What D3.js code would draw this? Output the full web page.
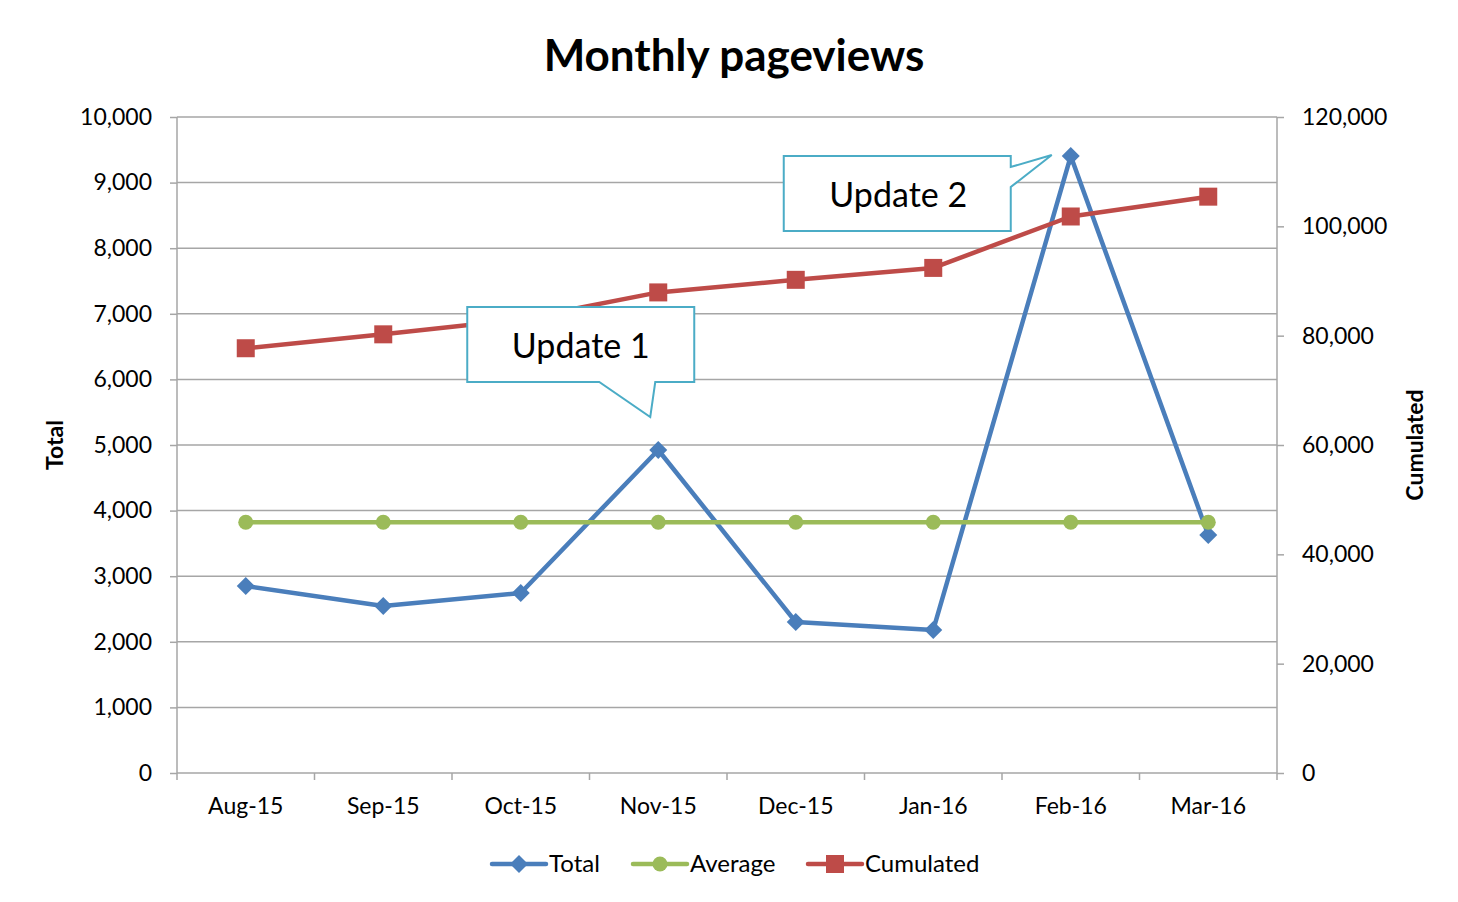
<!DOCTYPE html>
<html>
<head>
<meta charset="utf-8">
<script src="https://cdn.jsdelivr.net/npm/d3@7"></script>
<style>
  body { margin: 0; background: #fff; }
  svg text { font-family: Lato, "Open Sans", sans-serif; fill: #000; }
</style>
</head>
<body>
<div class="chart"></div>
<script>
// data
var months = ["Aug-15", "Sep-15", "Oct-15", "Nov-15", "Dec-15", "Jan-16", "Feb-16", "Mar-16"];
var total = [2850, 2545, 2744, 4924, 2302, 2180, 9405, 3628];
var average = [3822, 3822, 3822, 3822, 3822, 3822, 3822, 3822];
var cumulated = [77700, 80245, 82989, 87913, 90215, 92395, 101800, 105428];
var leftTicks = [0, 1000, 2000, 3000, 4000, 5000, 6000, 7000, 8000, 9000, 10000];
var rightTicks = [0, 20000, 40000, 60000, 80000, 100000, 120000];
var callouts = [
  { label: "Update 1", month: "Nov-15" },
  { label: "Update 2", month: "Feb-16" }
];

var W = 1458, H = 902;
var margin = { top: 117, bottom: 129, left: 177, right: 181 };
var width = W - margin.left - margin.right;
var height = H - margin.top - margin.bottom;

var svg = d3.select(".chart").append("svg").attr("width", W).attr("height", H);

var x = d3.scaleBand().domain(months).range([0, width]);
var yL = d3.scaleLinear().domain([0, 10000]).range([height, 0]);
var yR = d3.scaleLinear().domain([0, 120000]).range([height, 0]);
var cx = d => x(d) + x.bandwidth() / 2;

var grey = "#a6a6a6";
var chart = svg.append("g").attr("transform", `translate(${margin.left},${margin.top})`);

// title
svg.append("text").attr("x", 734).attr("y", 71).attr("text-anchor", "middle")
  .style("font-size", "44px").style("font-weight", "bold").text("Monthly pageviews");

// gridlines
chart.append("g").selectAll("line").data(leftTicks.slice(1)).join("line")
  .attr("x1", 0).attr("x2", width).attr("y1", d => yL(d)).attr("y2", d => yL(d))
  .attr("stroke", grey).attr("stroke-width", 1.5);

// left axis
var fmt = d3.format(",");
var axL = chart.append("g").call(d3.axisLeft(yL).tickValues(leftTicks).tickFormat(fmt).tickSize(7).tickPadding(18));
axL.selectAll("path, line").attr("stroke", grey).attr("stroke-width", 1.5);
axL.selectAll("text").style("font-size", "23px");
axL.select(".domain").attr("d", `M0,${height}V0`);

// right axis
var axR = chart.append("g").attr("transform", `translate(${width},0)`)
  .call(d3.axisRight(yR).tickValues(rightTicks).tickFormat(fmt).tickSize(7).tickPadding(18));
axR.selectAll("path, line").attr("stroke", grey).attr("stroke-width", 1.5);
axR.selectAll("text").style("font-size", "23px");
axR.select(".domain").attr("d", `M0,${height}V0`);

// bottom axis
var axB = chart.append("g").attr("transform", `translate(0,${height})`)
  .call(d3.axisBottom(x).tickSize(0).tickPadding(25));
axB.selectAll("path").attr("stroke", grey).attr("stroke-width", 1.5).attr("d", `M0,0H${width}`);
axB.selectAll("text").style("font-size", "23px");
axB.append("g").selectAll("line").data(d3.range(months.length + 1)).join("line")
  .attr("x1", i => i * x.bandwidth()).attr("x2", i => i * x.bandwidth())
  .attr("y1", 0).attr("y2", 7).attr("stroke", grey).attr("stroke-width", 1.5);

// axis titles
svg.append("text").attr("transform", "translate(63,445) rotate(-90)").attr("text-anchor", "middle")
  .style("font-size", "23px").style("font-weight", "bold").text("Total");
svg.append("text").attr("transform", "translate(1423,445) rotate(-90)").attr("text-anchor", "middle")
  .style("font-size", "23px").style("font-weight", "bold").text("Cumulated");

var series = [
  { name: "Total", values: total, y: yL, color: "#4a7ebb", marker: "diamond" },
  { name: "Average", values: average, y: yL, color: "#9bbb59", marker: "circle" },
  { name: "Cumulated", values: cumulated, y: yR, color: "#be4b48", marker: "square" }
];

function marker(g, type, color) {
  if (type === "diamond") g.append("path").attr("d", "M0,-9L9,0L0,9L-9,0Z").attr("fill", color);
  else if (type === "circle") g.append("circle").attr("r", 7.5).attr("fill", color);
  else g.append("rect").attr("x", -9).attr("y", -9).attr("width", 18).attr("height", 18).attr("fill", color);
}

series.forEach(s => {
  var line = d3.line().x((d, i) => cx(months[i])).y(d => s.y(d));
  chart.append("path").datum(s.values).attr("d", line).attr("fill", "none")
    .attr("stroke", s.color).attr("stroke-width", 4.5).attr("stroke-linejoin", "round");
  s.values.forEach((v, i) => {
    marker(chart.append("g").attr("transform", `translate(${cx(months[i])},${s.y(v)})`), s.marker, s.color);
  });
});

// callouts
var cBox = { w: 227, h: 75 };
var c1 = callouts[0], p1 = [cx(c1.month), yL(total[months.indexOf(c1.month)])];
var g1 = chart.append("g").attr("transform", `translate(${p1[0] - 191},${p1[1] - 143})`);
g1.append("path")
  .attr("d", `M0,0H${cBox.w}V${cBox.h}H188L183,110L132,${cBox.h}H0Z`)
  .attr("fill", "#fff").attr("stroke", "#4bacc6").attr("stroke-width", 2);
g1.append("text").attr("x", cBox.w / 2).attr("y", 51).attr("text-anchor", "middle")
  .style("font-size", "34px").text(c1.label);

var c2 = callouts[1], p2 = [cx(c2.month), yL(total[months.indexOf(c2.month)])];
var g2 = chart.append("g").attr("transform", `translate(${p2[0] - 287},${p2[1]})`);
g2.append("path")
  .attr("d", `M0,0H${cBox.w}V11L268,-1L${cBox.w},31V${cBox.h}H0Z`)
  .attr("fill", "#fff").attr("stroke", "#4bacc6").attr("stroke-width", 2);
g2.append("text").attr("x", cBox.w / 2 + 1).attr("y", 51).attr("text-anchor", "middle")
  .style("font-size", "34px").text(c2.label);

// legend
var legX = [492, 633, 808];
series.forEach((s, i) => {
  var lg = svg.append("g").attr("transform", `translate(${legX[i]},864)`);
  lg.append("line").attr("x1", 0).attr("x2", 54).attr("stroke", s.color)
    .attr("stroke-width", 4.5).attr("stroke-linecap", "round");
  marker(lg.append("g").attr("transform", "translate(27,0)"), s.marker, s.color);
  lg.append("text").attr("x", 57).attr("y", 8).style("font-size", "24px").text(s.name);
});
</script>
</body>
</html>
